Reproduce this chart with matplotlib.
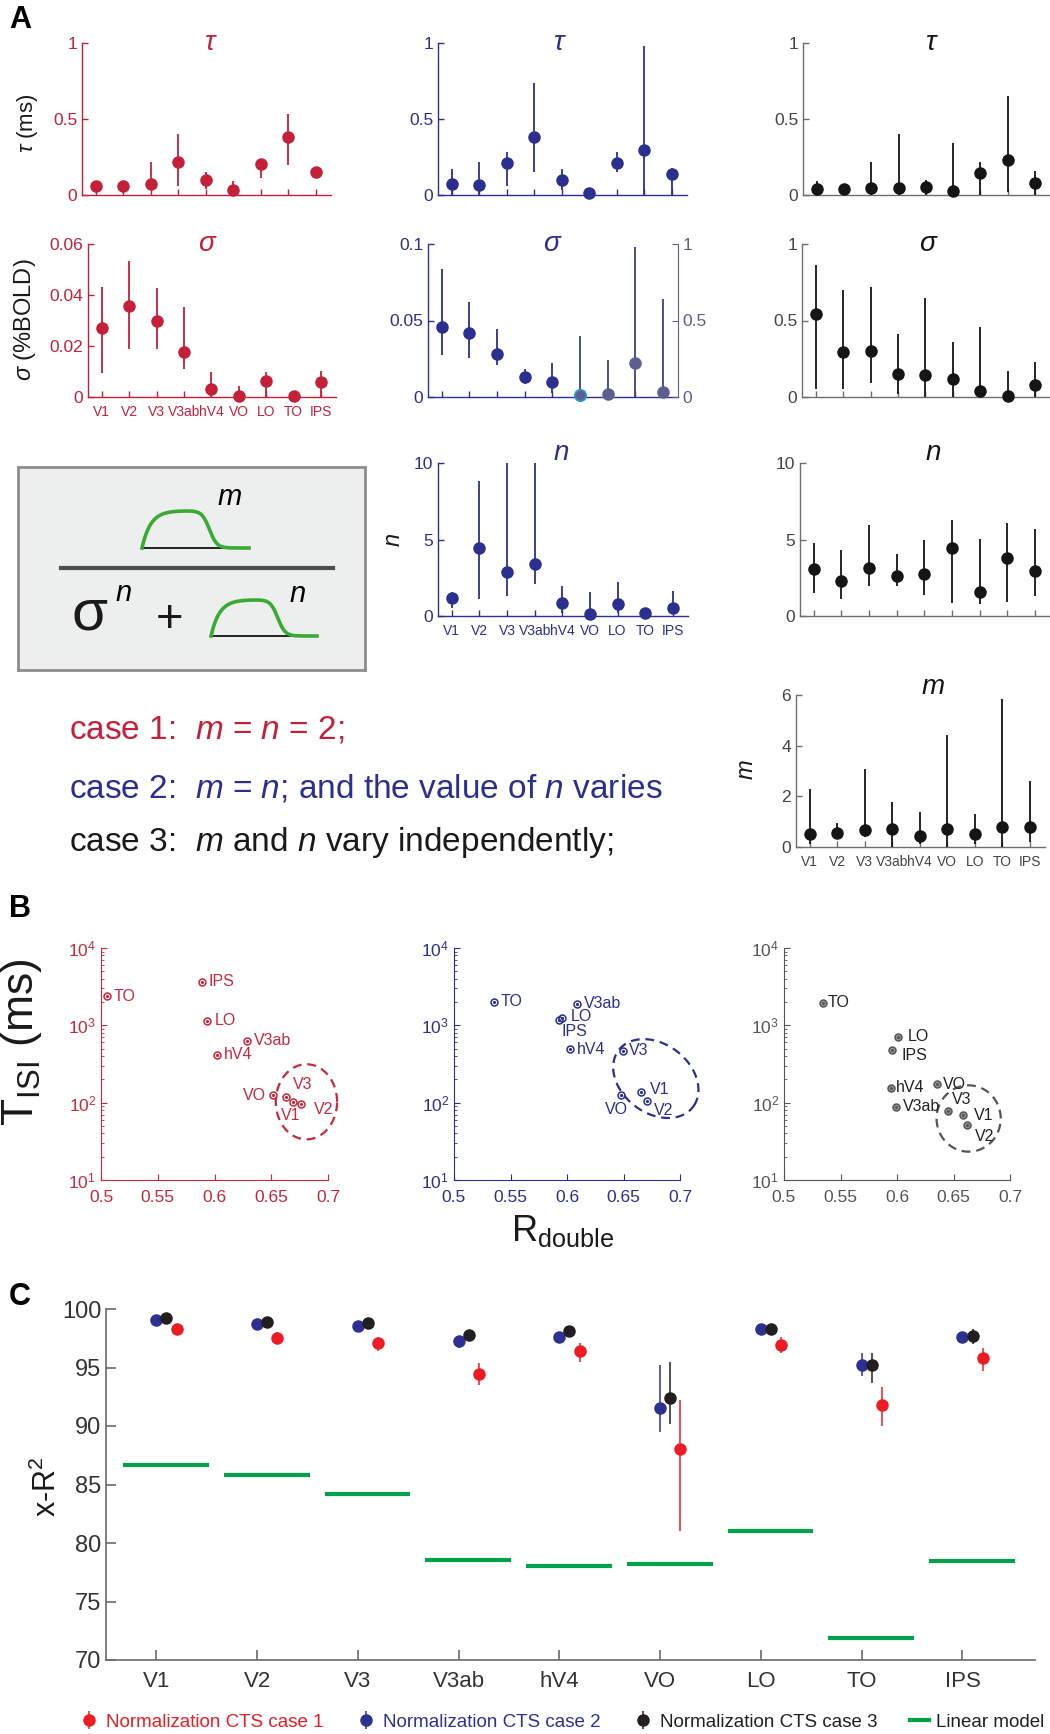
import numpy as np
import matplotlib
matplotlib.use('Agg')
import matplotlib.pyplot as plt
from matplotlib.lines import Line2D

plt.rcParams['font.family'] = ['Liberation Sans', 'DejaVu Sans']
plt.rcParams['mathtext.fontset'] = 'custom'
plt.rcParams['mathtext.rm'] = 'Liberation Sans'
plt.rcParams['mathtext.it'] = 'Liberation Sans:italic'
plt.rcParams['mathtext.bf'] = 'Liberation Sans:bold'

W, H = 1050, 1734
rois = ['V1', 'V2', 'V3', 'V3ab', 'hV4', 'VO', 'LO', 'TO', 'IPS']

# ---- panel A: fitted parameters (value, lower, upper) ----
tau_c1 = [0.059, 0.061, 0.070, 0.214, 0.098, 0.031, 0.203, 0.379, 0.151]
tau_c1_lo = [0.01, 0.01, 0.04, 0.06, 0.04, 0.00, 0.11, 0.20, 0.11]
tau_c1_hi = [0.07, 0.08, 0.22, 0.40, 0.15, 0.09, 0.22, 0.53, 0.17]

tau_c2 = [0.070, 0.066, 0.208, 0.383, 0.096, 0.015, 0.208, 0.295, 0.136]
tau_c2_lo = [0.0, 0.0, 0.06, 0.15, 0.03, 0.0, 0.15, 0.0, 0.0]
tau_c2_hi = [0.17, 0.22, 0.28, 0.74, 0.17, 0.02, 0.28, 0.98, 0.18]

tau_c3 = [0.037, 0.037, 0.048, 0.048, 0.050, 0.026, 0.142, 0.230, 0.077]
tau_c3_lo = [0.0, 0.0, 0.0, 0.0, 0.0, 0.0, 0.0, 0.02, 0.0]
tau_c3_hi = [0.09, 0.04, 0.22, 0.40, 0.10, 0.34, 0.22, 0.65, 0.16]

sig_c1 = [0.0269, 0.0356, 0.0298, 0.0175, 0.0033, 0.0003, 0.0064, 0.0003, 0.0059]
sig_c1_lo = [0.0093, 0.019, 0.019, 0.011, 0.0, 0.0, 0.0, 0.0, 0.0]
sig_c1_hi = [0.043, 0.0535, 0.0428, 0.0354, 0.0097, 0.0043, 0.0097, 0.0003, 0.0103]

# first five on the left axis (0-0.1), last four on the right axis (0-1)
sig_c2 = [0.0455, 0.042, 0.028, 0.0131, 0.0098, 0.015, 0.017, 0.219, 0.031]
sig_c2_lo = [0.0275, 0.0254, 0.0208, 0.0083, 0.0028, 0.0, 0.0, 0.0, 0.0]
sig_c2_hi = [0.0835, 0.0621, 0.0442, 0.0186, 0.0221, 0.40, 0.24, 0.98, 0.64]

sig_c3 = [0.54, 0.293, 0.298, 0.151, 0.147, 0.12, 0.04, 0.004, 0.081]
sig_c3_lo = [0.05, 0.05, 0.09, 0.02, 0.0, 0.0, 0.0, 0.0, 0.0]
sig_c3_hi = [0.86, 0.70, 0.72, 0.41, 0.65, 0.36, 0.46, 0.17, 0.23]

n_c2 = [1.2, 4.42, 2.89, 3.41, 0.85, 0.15, 0.79, 0.22, 0.53]
n_c2_lo = [0.5, 1.1, 1.3, 2.1, 0.2, 0.0, 0.2, 0.0, 0.1]
n_c2_hi = [1.6, 8.8, 10.0, 10.0, 1.96, 1.6, 2.2, 0.3, 1.66]

n_c3 = [3.04, 2.32, 3.15, 2.63, 2.74, 4.44, 1.60, 3.76, 2.95]
n_c3_lo = [1.52, 1.09, 1.97, 1.93, 1.36, 0.85, 0.81, 0.92, 1.31]
n_c3_hi = [4.79, 4.29, 5.97, 4.03, 4.95, 6.30, 5.03, 6.05, 5.71]

m_c3 = [0.51, 0.57, 0.66, 0.71, 0.42, 0.70, 0.51, 0.78, 0.79]
m_c3_lo = [0.1, 0.3, 0.4, 0.0, 0.1, 0.0, 0.1, 0.0, 0.2]
m_c3_hi = [2.28, 0.95, 3.07, 1.78, 1.40, 4.41, 1.32, 5.86, 2.60]

# ---- panel B: R_double vs T_ISI ----
b1_r = [0.6692, 0.6762, 0.6628, 0.6287, 0.6023, 0.6516, 0.5938, 0.5053, 0.5889]
b1_t = [100.6, 96.6, 120, 636, 419, 124, 1153, 2377, 3638]
b2_r = [0.6657, 0.6710, 0.6495, 0.6087, 0.6028, 0.6477, 0.5957, 0.5354, 0.5925]
b2_t = [137, 106, 472, 1892, 491, 125, 1236, 2009, 1164]
b3_r = [0.6580, 0.6619, 0.6448, 0.5990, 0.5945, 0.6356, 0.6010, 0.5346, 0.5957]
b3_t = [69, 52, 76.9, 88.5, 157, 172, 710, 1968, 486]

# ---- panel C: cross-validated R^2 ----
c1_r2 = [98.26, 97.52, 97.12, 94.47, 96.4, 88.0, 96.9, 91.8, 95.8]
c1_lo = [98.0, 97.0, 96.4, 93.5, 95.5, 81.0, 96.2, 90.0, 94.7]
c1_hi = [98.5, 98.0, 97.6, 95.4, 97.1, 92.2, 97.6, 93.3, 96.7]
c2_r2 = [99.09, 98.75, 98.52, 97.26, 97.6, 91.5, 98.3, 95.2, 97.6]
c2_lo = [98.9, 98.5, 98.2, 96.7, 97.2, 89.5, 98.0, 94.3, 97.2]
c2_hi = [99.3, 99.0, 98.8, 97.6, 98.0, 95.2, 98.6, 96.2, 98.0]
c3_r2 = [99.23, 98.89, 98.80, 97.80, 98.1, 92.4, 98.3, 95.2, 97.7]
c3_lo = [99.0, 98.7, 98.5, 97.4, 97.7, 90.2, 98.1, 93.7, 97.0]
c3_hi = [99.4, 99.1, 99.0, 98.1, 98.4, 95.5, 98.6, 96.2, 98.3]
linear_r2 = [86.63, 85.83, 84.17, 78.53, 78.05, 78.2, 81.0, 71.9, 78.5]

RED = '#C5203A'
BLUE = '#2B2F8F'
BLUE_GREY = '#5C5F8D'
DARK = '#151515'
GREY_AX = '#6E6E6E'
C_RED = '#ED1C24'
C_BLUE = '#2E3192'
C_BLACK = '#231F20'
GREEN = '#00A14B'

x = np.arange(1, 10)


def rect(l, t, r, b):
    return [l / W, 1 - b / H, (r - l) / W, (b - t) / H]


def fx(px):
    return px / W


def fy(py):
    return 1 - py / H


def dots(ax, xs, vals, lo, hi, color, ms=8, edge=None, ecolor=None):
    v = np.asarray(vals, float)
    err = [np.clip(v - np.asarray(lo), 0, None), np.clip(np.asarray(hi) - v, 0, None)]
    c = ax.errorbar(xs, v, yerr=err, fmt='o', ms=ms, color=color, mec=edge or color,
                    ecolor=ecolor or color, elinewidth=1.3, capsize=0, zorder=3)
    for a in c.get_children():
        a.set_clip_on(False)
    return c


def style_a(ax, color, ylim, yticks, ylabels, xlabels=False, labcol=None):
    for s in ['top', 'right']:
        ax.spines[s].set_visible(False)
    for s in ['left', 'bottom']:
        ax.spines[s].set_color(color)
        ax.spines[s].set_linewidth(1.0)
    ax.tick_params(direction='in', length=4, width=1, colors=color, labelsize=12.5,
                   labelcolor=labcol or color)
    ax.tick_params(axis='x', pad=6, labelsize=10)
    ax.set_xlim(0.5, 9.55)
    ax.set_ylim(*ylim)
    ax.set_xticks(x)
    ax.set_xticklabels(rois if xlabels else [])
    ax.set_yticks(yticks)
    ax.set_yticklabels(ylabels)
    ax.patch.set_alpha(0)


fig = plt.figure(figsize=(W / 100, H / 100), dpi=100)

# ---------------- Panel A ----------------
ax = fig.add_axes(rect(82, 43, 331, 195))
dots(ax, x, tau_c1, tau_c1_lo, tau_c1_hi, RED)
style_a(ax, RED, (0, 1), [0, 0.5, 1], ['0', '0.5', '1'])

ax = fig.add_axes(rect(438, 43, 687, 195))
dots(ax, x, tau_c2, tau_c2_lo, tau_c2_hi, BLUE)
style_a(ax, BLUE, (0, 1), [0, 0.5, 1], ['0', '0.5', '1'])

ax = fig.add_axes(rect(803, 43, 1050, 195))
dots(ax, x, tau_c3, tau_c3_lo, tau_c3_hi, DARK)
style_a(ax, GREY_AX, (0, 1), [0, 0.5, 1], ['0', '0.5', '1'], labcol='#444444')

ax = fig.add_axes(rect(88, 244, 336, 397))
dots(ax, x, sig_c1, sig_c1_lo, sig_c1_hi, RED)
style_a(ax, RED, (0, 0.06), [0, 0.02, 0.04, 0.06], ['0', '0.02', '0.04', '0.06'], xlabels=True)

ax = fig.add_axes(rect(428, 244, 678, 397))
dots(ax, x[:5], sig_c2[:5], sig_c2_lo[:5], sig_c2_hi[:5], BLUE)
style_a(ax, BLUE, (0, 0.1), [0, 0.05, 0.1], ['0', '0.05', '0.1'])
ax2 = ax.twinx()
dots(ax2, x[5:], sig_c2[5:], sig_c2_lo[5:], sig_c2_hi[5:], BLUE_GREY, ecolor='#3E4280')
ax2.plot(x[5], sig_c2[5], 'o', ms=8, mfc=BLUE_GREY, mec='#1E9AD6', mew=1.2, clip_on=False, zorder=4)
for s in ['top', 'left', 'bottom']:
    ax2.spines[s].set_visible(False)
ax2.spines['right'].set_color(BLUE_GREY)
ax2.set_ylim(0, 1)
ax2.set_yticks([0, 0.5, 1])
ax2.set_yticklabels(['0', '0.5', '1'])
ax2.tick_params(direction='in', length=4, colors=BLUE_GREY, labelsize=12.5)

ax = fig.add_axes(rect(802, 244, 1050, 397))
dots(ax, x, sig_c3, sig_c3_lo, sig_c3_hi, DARK)
style_a(ax, GREY_AX, (0, 1), [0, 0.5, 1], ['0', '0.5', '1'], labcol='#444444')

ax = fig.add_axes(rect(438, 463, 688, 616))
dots(ax, x, n_c2, n_c2_lo, n_c2_hi, BLUE)
style_a(ax, BLUE, (0, 10), [0, 5, 10], ['0', '5', '10'], xlabels=True)

ax = fig.add_axes(rect(800, 463, 1050, 616))
dots(ax, x, n_c3, n_c3_lo, n_c3_hi, DARK)
style_a(ax, GREY_AX, (0, 10), [0, 5, 10], ['0', '5', '10'], labcol='#444444')

ax = fig.add_axes(rect(796, 695, 1045, 847))
dots(ax, x, m_c3, m_c3_lo, m_c3_hi, DARK)
style_a(ax, GREY_AX, (0, 6), [0, 2, 4, 6], ['0', '2', '4', '6'], xlabels=True, labcol='#444444')

# titles and axis labels of panel A
for (px, py, s, c) in [(211, 43, r'$\tau$', RED), (560, 43, r'$\tau$', BLUE), (932, 43, r'$\tau$', DARK),
                       (208, 244, r'$\sigma$', RED), (553, 244, r'$\sigma$', BLUE), (929, 244, r'$\sigma$', DARK),
                       (561, 453, r'$n$', BLUE), (933, 453, r'$n$', DARK), (933, 687, r'$m$', DARK)]:
    fig.text(fx(px), fy(py), s, color=c, fontsize=20, ha='center', va='center')

fig.text(fx(27), fy(123), r'$\tau$ (ms)', rotation=90, fontsize=16, ha='center', va='center', color='#1A1A1A')
fig.text(fx(25), fy(320), r'$\sigma$ (%BOLD)', rotation=90, fontsize=17, ha='center', va='center', color='#1A1A1A')
fig.text(fx(394), fy(540), r'$n$', rotation=90, fontsize=17, ha='center', va='center', color='#1A1A1A')
fig.text(fx(747), fy(770), r'$m$', rotation=90, fontsize=17, ha='center', va='center', color='#1A1A1A')

# model schematic box
bx = fig.add_axes(rect(18, 467, 365, 670))
bx.set_xlim(0, 347)
bx.set_ylim(203, 0)
bx.set_xticks([])
bx.set_yticks([])
bx.set_facecolor('#EDEFEE')
for s in bx.spines.values():
    s.set_color('#8C8C8C')
    s.set_linewidth(2)


def pulse(x0, x1, ybase, ytop):
    u = np.linspace(0, 1, 300)
    h = (1 - np.exp(-u / 0.08)) / (1 + np.exp((u - 0.63) / 0.035))
    h = h / h.max()
    bx.plot([x0, x1], [ybase, ybase], color='black', lw=1.2)
    bx.plot(x0 + u * (x1 - x0), ybase - h * (ybase - ytop), color='#3AAA35', lw=2.6)


pulse(124, 231, 81, 44)
pulse(193, 299, 169, 133)
bx.plot([43, 315], [101, 101], color='#4D4D4D', lw=3)
bx.text(211, 30, r'$m$', fontsize=21, ha='center', va='center')
bx.text(72, 148, 'σ', fontsize=42, ha='center', va='center', color='#1A1A1A')
bx.text(105, 126, r'$n$', fontsize=21, ha='center', va='center')
bx.text(152, 153, '+', fontsize=34, ha='center', va='center', color='#1A1A1A')
bx.text(279, 127, r'$n$', fontsize=21, ha='center', va='center')

fig.text(fx(69), fy(730), r'case 1:  $m$ = $n$ = 2;', fontsize=24, color=RED, ha='left', va='center')
fig.text(fx(69), fy(788), r'case 2:  $m$ = $n$; and the value of $n$ varies', fontsize=24, color=BLUE,
         ha='left', va='center')
fig.text(fx(69), fy(843), r'case 3:  $m$ and $n$ vary independently;', fontsize=24, color='#1A1A1A',
         ha='left', va='center')

# ---------------- Panel B ----------------
label_pos = {
    1: {'TO': (5, 0, 'left', 'center'), 'IPS': (5, 0, 'left', 'center'), 'LO': (5, 0, 'left', 'center'),
        'V3ab': (5, 0, 'left', 'center'), 'hV4': (5, 0, 'left', 'center'), 'VO': (-5, 0, 'right', 'center'),
        'V3': (5, 3, 'left', 'bottom'), 'V1': (-2, -4, 'center', 'top'), 'V2': (9, -4, 'left', 'center')},
    2: {'TO': (5, 0, 'left', 'center'), 'V3ab': (5, 0, 'left', 'center'), 'LO': (6, 1, 'left', 'center'),
        'IPS': (2, -3, 'left', 'top'), 'hV4': (5, 0, 'left', 'center'), 'V3': (4, 0, 'left', 'center'),
        'V1': (6, 2, 'left', 'center'), 'VO': (-3, -5, 'center', 'top'), 'V2': (5, -2, 'left', 'top')},
    3: {'TO': (3, 0, 'left', 'center'), 'LO': (7, 0, 'left', 'center'), 'IPS': (7, -4, 'left', 'center'),
        'hV4': (4, 0, 'left', 'center'), 'VO': (4, 0, 'left', 'center'), 'V3ab': (5, 0, 'left', 'center'),
        'V3': (3, 3, 'left', 'bottom'), 'V1': (8, 0, 'left', 'center'), 'V2': (6, -3, 'left', 'top')},
}


def ellipse(ax, cx, cy, a, b, ang, color):
    t = np.linspace(0, 2 * np.pi, 300)
    fx0 = (cx - 0.5) / 0.2
    fy0 = (np.log10(cy) - 1) / 3
    ca, sa = np.cos(np.radians(ang)), np.sin(np.radians(ang))
    u, v = a * np.cos(t), b * np.sin(t)
    ax.plot(fx0 + u * ca - v * sa, fy0 + u * sa + v * ca, transform=ax.transAxes,
            ls=(0, (4, 2.6)), color=color, lw=1.6, clip_on=False)


panels_b = [(1, (101, 948, 328, 1180), b1_r, b1_t, '#C8283C', '#C8283C', 'none', (0.681, 102.6, 0.135, 0.162, 0)),
            (2, (454, 948, 680, 1180), b2_r, b2_t, BLUE, BLUE, 'none', (0.6786, 205, 0.205, 0.15, -35)),
            (3, (784, 948, 1010, 1180), b3_r, b3_t, '#555555', '#222222', '#9A9A9A', (0.6634, 62.4, 0.142, 0.143, 0))]
for k, box, rr, tt, col, txtcol, face, ell in panels_b:
    ax = fig.add_axes(rect(*box))
    ax.plot(rr, tt, 'o', ms=5, mfc=face, mec=col, mew=1.1, ls='none', clip_on=False)
    ax.plot(rr, tt, 'o', ms=1.3, color=col, ls='none', clip_on=False)
    for name, r, t in zip(rois, rr, tt):
        dx, dy, ha, va = label_pos[k][name]
        ax.annotate(name, (r, t), xytext=(dx, dy), textcoords='offset points', ha=ha, va=va,
                    fontsize=11.5, color=txtcol)
    ellipse(ax, *ell[:4], ell[4], col)
    ax.set_yscale('log')
    ax.set_xlim(0.5, 0.7)
    ax.set_ylim(10, 1e4)
    ax.set_xticks([0.5, 0.55, 0.6, 0.65, 0.7])
    ax.set_xticklabels(['0.5', '0.55', '0.6', '0.65', '0.7'])
    for s in ['top', 'right']:
        ax.spines[s].set_visible(False)
    for s in ['left', 'bottom']:
        ax.spines[s].set_color(col)
    ax.tick_params(which='both', direction='in', colors=col, labelsize=12.5)
    ax.tick_params(which='major', length=4)
    ax.tick_params(which='minor', length=2)
    ax.tick_params(axis='x', pad=7)
    ax.patch.set_alpha(0)

fig.text(fx(22), fy(1042), r'T$_{\rm ISI}$ (ms)', rotation=90, fontsize=32, ha='center', va='center',
         color='#1A1A1A')
fig.text(fx(563), fy(1231), r'R$_{\rm double}$', fontsize=26, ha='center', va='center', color='#1A1A1A')

# ---------------- Panel C ----------------
ax = fig.add_axes(rect(106, 1309, 1035, 1660))


def cdots(xs, vals, lo, hi, color):
    v = np.asarray(vals)
    err = [np.clip(v - np.asarray(lo), 0, None), np.clip(np.asarray(hi) - v, 0, None)]
    return ax.errorbar(xs, v, yerr=err, fmt='o', ms=8, color=color, elinewidth=1.1, capsize=0, zorder=3)


h_blue = cdots(x, c2_r2, c2_lo, c2_hi, C_BLUE)
h_black = cdots(x + 0.1, c3_r2, c3_lo, c3_hi, C_BLACK)
h_red = cdots(x + 0.2, c1_r2, c1_lo, c1_hi, C_RED)
ax.hlines(linear_r2, x - 0.33, x + 0.52, color=GREEN, lw=3)
ax.set_xlim(0.5, 9.72)
ax.set_ylim(70, 100)
ax.set_xticks(x)
ax.set_xticklabels(rois)
ax.set_yticks([70, 75, 80, 85, 90, 95, 100])
for s in ['top', 'right']:
    ax.spines[s].set_visible(False)
for s in ['left', 'bottom']:
    ax.spines[s].set_color('#6A6A6A')
    ax.spines[s].set_linewidth(1.2)
ax.tick_params(direction='in', length=7, width=1.2, colors='#6A6A6A', labelcolor='#333333', labelsize=17)
ax.tick_params(axis='x', pad=8, labelsize=16)
ax.patch.set_alpha(0)
fig.text(fx(47), fy(1487), r'x-R$^2$', rotation=90, fontsize=22, ha='center', va='center', color='#1A1A1A')

h_green = Line2D([], [], color=GREEN, lw=3)
leg = fig.legend([h_red, h_blue, h_black, h_green],
                 ['Normalization CTS case 1', 'Normalization CTS case 2', 'Normalization CTS case 3',
                  'Linear model'],
                 ncol=4, loc='center left', bbox_to_anchor=(fx(80), fy(1722)), frameon=False,
                 fontsize=13.5, handlelength=1.0, handletextpad=0.4, columnspacing=1.75,
                 borderpad=0, borderaxespad=0)
for t, c in zip(leg.get_texts(), [C_RED, C_BLUE, C_BLACK, C_BLACK]):
    t.set_color(c)

# panel letters
for px, py, s in [(20, 20, 'A'), (20, 909, 'B'), (20, 1297, 'C')]:
    fig.text(fx(px), fy(py), s, fontsize=22, fontweight='bold', ha='center', va='center')

fig.savefig('out.png', dpi=100)
